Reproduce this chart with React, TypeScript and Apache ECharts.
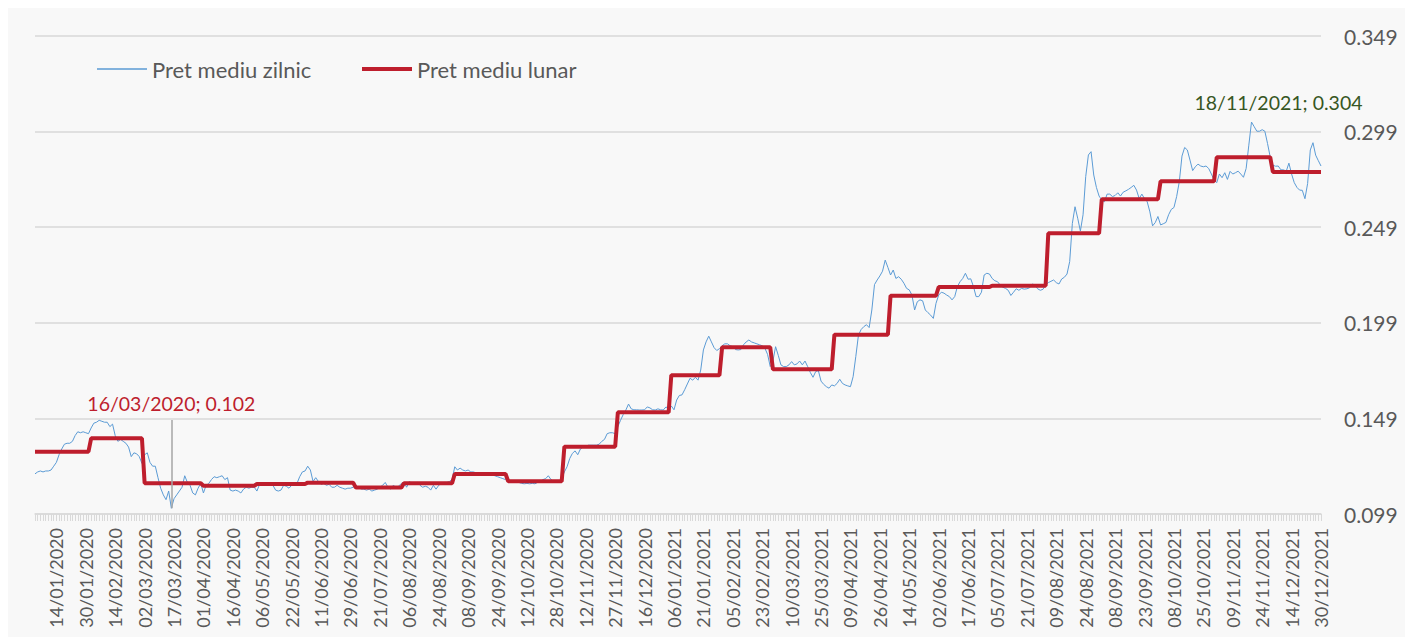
import React, { useEffect, useRef } from "react";
import * as echarts from "echarts";

// ---------- DATA ----------
const seriesNames = ["Pret mediu zilnic", "Pret mediu lunar"];

const tickLabels = [
  "14/01/2020", "30/01/2020", "14/02/2020", "02/03/2020", "17/03/2020", "01/04/2020",
  "16/04/2020", "06/05/2020", "22/05/2020", "11/06/2020", "29/06/2020", "21/07/2020",
  "06/08/2020", "24/08/2020", "08/09/2020", "24/09/2020", "12/10/2020", "28/10/2020",
  "12/11/2020", "27/11/2020", "16/12/2020", "06/01/2021", "21/01/2021", "05/02/2021",
  "23/02/2021", "10/03/2021", "25/03/2021", "09/04/2021", "26/04/2021", "14/05/2021",
  "02/06/2021", "17/06/2021", "05/07/2021", "21/07/2021", "09/08/2021", "24/08/2021",
  "08/09/2021", "23/09/2021", "08/10/2021", "25/10/2021", "09/11/2021", "24/11/2021",
  "14/12/2021", "30/12/2021",
];

const firstDay = "02/01/2020";
const lastDay = "30/12/2021";

// weekdays without a quote (holidays and missing sessions)
const nonTradingDays = [
  "24/01/2020", "17/04/2020", "20/04/2020", "01/05/2020", "08/05/2020", "01/06/2020",
  "05/06/2020", "08/06/2020", "12/06/2020", "13/07/2020", "14/07/2020", "15/07/2020",
  "16/07/2020", "17/07/2020", "03/08/2020", "14/08/2020", "11/09/2020", "28/09/2020",
  "16/10/2020", "30/11/2020", "01/12/2020", "25/12/2020", "31/12/2020",
  "01/01/2021", "04/01/2021", "12/02/2021", "30/04/2021", "03/05/2021", "04/05/2021",
  "24/05/2021", "01/06/2021", "21/06/2021", "16/07/2021", "02/08/2021", "03/08/2021",
  "30/11/2021", "01/12/2021", "03/12/2021", "24/12/2021",
];

const dailyPrice = [
  0.120, 0.121, 0.1215, 0.121, 0.1215, 0.1215, 0.122, 0.124, 0.126, 0.130, 0.133,
  0.1355, 0.136, 0.136, 0.137, 0.140, 0.142, 0.1415, 0.142, 0.1415, 0.141, 0.144,
  0.1465, 0.147, 0.148, 0.1475, 0.147, 0.147, 0.1447, 0.146, 0.140, 0.137, 0.138,
  0.137, 0.136, 0.134, 0.129, 0.131, 0.1305, 0.129, 0.1255, 0.130, 0.131, 0.126,
  0.124, 0.124, 0.118, 0.1125, 0.109, 0.1065, 0.111, 0.102, 0.107, 0.109, 0.111,
  0.113, 0.119, 0.1155, 0.114, 0.110, 0.109, 0.1125, 0.115, 0.110, 0.114, 0.115,
  0.117, 0.1185, 0.118, 0.1185, 0.119, 0.117, 0.118, 0.1115, 0.111, 0.1115, 0.111,
  0.110, 0.112, 0.113, 0.1125, 0.113, 0.113, 0.111, 0.1145, 0.114, 0.115, 0.115,
  0.1145, 0.114, 0.1115, 0.111, 0.1115, 0.114, 0.1135, 0.1125, 0.114, 0.1145, 0.115,
  0.1185, 0.121, 0.1215, 0.124, 0.122, 0.116, 0.118, 0.116, 0.1145, 0.115, 0.114,
  0.1145, 0.113, 0.113, 0.114, 0.113, 0.1125, 0.112, 0.1125, 0.1125, 0.113, 0.114,
  0.113, 0.112, 0.112, 0.1115, 0.112, 0.111, 0.1115, 0.112, 0.113, 0.114, 0.1155,
  0.113, 0.112, 0.114, 0.113, 0.1135, 0.115, 0.1155, 0.113, 0.116, 0.115, 0.1148,
  0.1155, 0.114, 0.113, 0.1135, 0.113, 0.1115, 0.114, 0.112, 0.114, 0.115, 0.1155,
  0.1155, 0.116, 0.117, 0.1237, 0.122, 0.123, 0.122, 0.1215, 0.122, 0.121, 0.121,
  0.1205, 0.1203, 0.1195, 0.1195, 0.120, 0.1203, 0.1195, 0.119, 0.1185, 0.118, 0.1175,
  0.117, 0.1165, 0.116, 0.116, 0.1155, 0.1155, 0.115, 0.1148, 0.115, 0.1148, 0.115,
  0.1148, 0.1155, 0.116, 0.117, 0.1175, 0.119, 0.117, 0.116, 0.116, 0.116, 0.1175,
  0.121, 0.1237, 0.128, 0.1307, 0.132, 0.130, 0.133, 0.134, 0.1345, 0.135, 0.135,
  0.135, 0.135, 0.1355, 0.137, 0.138, 0.141, 0.1415, 0.1415, 0.141, 0.1447, 0.148,
  0.151, 0.1534, 0.1565, 0.154, 0.1535, 0.1535, 0.1534, 0.1534, 0.1535, 0.155, 0.1545,
  0.1535, 0.1534, 0.154, 0.1535, 0.1534, 0.155, 0.154, 0.1555, 0.1535, 0.1586, 0.161,
  0.1613, 0.164, 0.167, 0.170, 0.169, 0.1705, 0.169, 0.1743, 0.1848, 0.189, 0.192,
  0.189, 0.186, 0.1845, 0.1855, 0.187, 0.188, 0.188, 0.187, 0.1865, 0.185, 0.1848,
  0.185, 0.1875, 0.189, 0.190, 0.189, 0.1885, 0.188, 0.1875, 0.187, 0.1857, 0.1825,
  0.1761, 0.179, 0.1865, 0.182, 0.177, 0.1761, 0.1761, 0.177, 0.1787, 0.177, 0.1775,
  0.179, 0.177, 0.179, 0.1761, 0.173, 0.1705, 0.1735, 0.174, 0.1685, 0.1668, 0.1656,
  0.1648, 0.1665, 0.166, 0.1673, 0.1695, 0.1673, 0.1665, 0.166, 0.1656, 0.1708, 0.1813,
  0.1926, 0.1955, 0.197, 0.198, 0.1965, 0.2057, 0.219, 0.2214, 0.2235, 0.226, 0.2318,
  0.228, 0.224, 0.2266, 0.2222, 0.2231, 0.2218, 0.2197, 0.217, 0.2162, 0.2135, 0.2057,
  0.210, 0.211, 0.2105, 0.2057, 0.2043, 0.203, 0.2013, 0.2092, 0.2135, 0.215, 0.2145,
  0.2135, 0.2127, 0.211, 0.2127, 0.218, 0.2205, 0.2222, 0.2249, 0.2218, 0.222, 0.218,
  0.2127, 0.2127, 0.215, 0.224, 0.2249, 0.2245, 0.2222, 0.221, 0.2205, 0.2188,
  0.2176, 0.217, 0.216, 0.2133, 0.215, 0.2168, 0.216, 0.217, 0.2166, 0.2168, 0.2173,
  0.2193, 0.2188, 0.2168, 0.216, 0.2165, 0.2188, 0.220, 0.2207, 0.2214, 0.220, 0.2193,
  0.2219, 0.2228, 0.2245, 0.231, 0.251, 0.2597, 0.2537, 0.247, 0.2555, 0.2755, 0.2868,
  0.2885, 0.2763, 0.2698, 0.2653, 0.2632, 0.2623, 0.2663, 0.2663, 0.265, 0.2656, 0.267,
  0.2653, 0.2673, 0.268, 0.2688, 0.2698, 0.2709, 0.2684, 0.264, 0.2663, 0.2639, 0.2623,
  0.257, 0.2497, 0.2514, 0.2546, 0.2502, 0.2508, 0.2515, 0.2555, 0.2583, 0.2593, 0.265,
  0.2728, 0.2862, 0.2907, 0.2894, 0.2841, 0.2786, 0.2806, 0.282, 0.281, 0.2806, 0.281,
  0.2797, 0.2768, 0.2737, 0.2723, 0.2768, 0.2749, 0.2775, 0.274, 0.2782, 0.2768, 0.2775,
  0.2783, 0.2768, 0.2751, 0.2797, 0.2919, 0.304, 0.3016, 0.2992, 0.2992, 0.300, 0.2992,
  0.2928, 0.2858, 0.2814, 0.2809, 0.281, 0.279, 0.279, 0.2783, 0.2825, 0.2768, 0.2723,
  0.2698, 0.2684, 0.2683, 0.2639, 0.2719, 0.2894, 0.2932, 0.2867, 0.2838, 0.281,
];

// monthly averages, Jan 2020 .. Dec 2021
const monthlyAvg = [
  0.1316, 0.1386, 0.1151, 0.1138, 0.1147, 0.1154, 0.1128, 0.1151, 0.1199, 0.1161, 0.1342, 0.1522,
  0.1716, 0.1862, 0.1747, 0.1928, 0.2132, 0.2177, 0.2184, 0.2458, 0.2636, 0.2730, 0.2856, 0.2779,
];
const monthlyStartYear = 2020;

const yMin = 0.099;
const yMax = 0.349;
const yStep = 0.05;
const minMarkerTop = 0.1482; // top of the grey marker line above the minimum

// ---------- HELPERS ----------
const pad = (n: number) => (n < 10 ? "0" + n : "" + n);
const parseDMY = (s: string) => {
  const [d, m, y] = s.split("/").map(Number);
  return Date.UTC(y, m - 1, d);
};
const fmt = (t: number) => {
  const dt = new Date(t);
  return pad(dt.getUTCDate()) + "/" + pad(dt.getUTCMonth() + 1) + "/" + dt.getUTCFullYear();
};
function buildDates(): string[] {
  const skip = new Set(nonTradingDays);
  const out: string[] = [];
  const end = parseDMY(lastDay);
  for (let t = parseDMY(firstDay); t <= end; t += 86400000) {
    const wd = new Date(t).getUTCDay();
    if (wd === 0 || wd === 6) continue;
    const s = fmt(t);
    if (skip.has(s)) continue;
    out.push(s);
  }
  return out;
}

export default function App() {
  const ref = useRef<HTMLDivElement>(null);

  useEffect(() => {
    if (!ref.current) return;
    const chart = echarts.init(ref.current, undefined, { renderer: "svg" });

    const dates = buildDates();
    const labelSet = new Set(tickLabels);
    const monthly = dates.map((d) => {
      const [, m, y] = d.split("/").map(Number);
      return monthlyAvg[(y - monthlyStartYear) * 12 + (m - 1)];
    });

    let minIdx = 0;
    let maxIdx = 0;
    dailyPrice.forEach((v, i) => {
      if (v < dailyPrice[minIdx]) minIdx = i;
      if (v > dailyPrice[maxIdx]) maxIdx = i;
    });
    const minLabel = `${dates[minIdx]}; ${dailyPrice[minIdx].toFixed(3)}`;
    const maxLabel = `${dates[maxIdx]}; ${dailyPrice[maxIdx].toFixed(3)}`;

    const grey = "#595959";
    const red = "#be1e2d";
    const blue = "#5b9bd5";

    const legendText = { color: grey, fontSize: 22, fontFamily: "Lato" };

    chart.setOption({
      animation: false,
      backgroundColor: "#f8f8f8",
      textStyle: { fontFamily: "Lato" },
      grid: { left: 29, right: 86, top: 30, bottom: 123 },
      legend: [
        {
          data: [{ name: seriesNames[0], icon: "rect" }],
          left: 86,
          top: 47,
          itemWidth: 50,
          itemHeight: 1.5,
          textStyle: legendText,
        },
        {
          data: [{ name: seriesNames[1], icon: "rect" }],
          left: 351,
          top: 47,
          itemWidth: 50,
          itemHeight: 4,
          textStyle: legendText,
        },
      ],
      xAxis: {
        type: "category",
        data: dates,
        boundaryGap: false,
        axisLine: { lineStyle: { color: "#d9d9d9", width: 1.5 } },
        axisTick: { show: true, interval: 0, length: 7, lineStyle: { color: "#d9d9d9", width: 1 } },
        axisLabel: {
          interval: (idx: number, value: string) => labelSet.has(value),
          rotate: 90,
          margin: 14,
          color: grey,
          fontSize: 18,
          fontFamily: "Lato",
        },
        splitLine: { show: false },
      },
      yAxis: {
        type: "value",
        position: "right",
        min: yMin,
        max: yMax,
        interval: yStep,
        axisLine: { show: false },
        axisTick: { show: false },
        axisLabel: {
          margin: 23,
          color: grey,
          fontSize: 21,
          fontFamily: "Lato",
          formatter: (v: number) => v.toFixed(3),
        },
        splitLine: { show: true, lineStyle: { color: "#d9d9d9", width: 1.5 } },
      },
      series: [
        {
          name: seriesNames[0],
          type: "line",
          data: dailyPrice,
          symbol: "none",
          lineStyle: { color: blue, width: 1 },
          itemStyle: { color: blue },
          z: 3,
          markLine: {
            silent: true,
            symbol: ["none", "none"],
            lineStyle: { color: "#a6a6a6", width: 1.5, type: "solid" },
            label: {
              show: true,
              position: "end",
              distance: 6,
              formatter: minLabel,
              color: red,
              fontSize: 19.5,
              fontFamily: "Lato",
            },
            data: [
              [
                { coord: [dates[minIdx], dailyPrice[minIdx]] },
                { coord: [dates[minIdx], minMarkerTop] },
              ],
            ],
          },
          markPoint: {
            silent: true,
            data: [
              {
                coord: [dates[maxIdx], dailyPrice[maxIdx]],
                symbol: "circle",
                symbolSize: 0,
                label: {
                  show: true,
                  position: "inside",
                  offset: [27, -20],
                  formatter: maxLabel,
                  color: "#375623",
                  fontSize: 19.5,
                  fontFamily: "Lato",
                },
              },
            ],
          },
        },
        {
          name: seriesNames[1],
          type: "line",
          data: monthly,
          symbol: "none",
          lineStyle: { color: red, width: 4 },
          itemStyle: { color: red },
          z: 4,
        },
      ],
    });

    return () => chart.dispose();
  }, []);

  return (
    <div
      ref={ref}
      style={{ width: 1401, height: 631, margin: "-2px 0 0 -2px" }}
    />
  );
}
